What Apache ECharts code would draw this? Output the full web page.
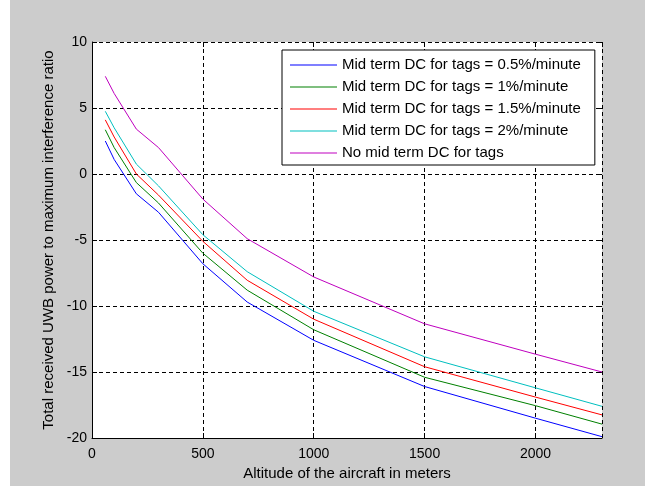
<!DOCTYPE html>
<html>
<head>
<meta charset="utf-8">
<script src="https://cdn.jsdelivr.net/npm/echarts@6/dist/echarts.min.js"></script>
<style>
  html, body { margin: 0; padding: 0; background: #ffffff; }
  #chart { width: 645px; height: 486px; }
</style>
</head>
<body>
<div id="chart"></div>
<script>
// Altitude of the aircraft (m)
const altitudes = [60, 100, 200, 300, 500, 700, 1000, 1500, 2000, 2300];

// Received UWB power to maximum interference ratio (dB)
const dc05 = [2.5, 1.1, -1.5, -2.9, -6.8, -9.7, -12.6, -16.1, -18.5, -19.9];
const dc1  = [3.35, 2.0, -0.65, -2.2, -6.0, -8.8, -11.8, -15.4, -17.55, -18.95];
const dc15 = [4.1, 2.8, 0.0, -1.6, -5.1, -8.05, -11.0, -14.6, -16.9, -18.25];
const dc2  = [4.75, 3.5, 0.75, -0.9, -4.6, -7.4, -10.4, -13.85, -16.2, -17.6];
const noDc = [7.4, 6.1, 3.4, 2.0, -1.9, -4.9, -7.8, -11.35, -13.65, -15.0];

const seriesNames = [
  'Mid term DC for tags = 0.5%/minute',
  'Mid term DC for tags = 1%/minute',
  'Mid term DC for tags = 1.5%/minute',
  'Mid term DC for tags = 2%/minute',
  'No mid term DC for tags'
];
const seriesValues = [dc05, dc1, dc15, dc2, noDc];
const seriesColors = ['#0000ff', '#008000', '#ff0000', '#00bfbf', '#bf00bf'];

const xTicks = { min: 0, max: 2300, interval: 500 };
const yTicks = { min: -20, max: 10, interval: 5 };

const FONT = 'Liberation Sans, Arial, sans-serif';

const chart = echarts.init(document.getElementById('chart'), null, { renderer: 'canvas' });

const toPairs = (ys) => altitudes.map((x, i) => [x, ys[i]]);

const gridLine = { show: true, lineStyle: { color: '#000', type: [4, 3], width: 1 } };
const innerTick = { show: true, inside: true, length: 5, lineStyle: { color: '#000' } };

chart.setOption({
  backgroundColor: '#cccccc',
  animation: false,
  graphic: [{
    type: 'rect', left: 0, top: 0, z: -1,
    shape: { width: 10, height: 486 },
    style: { fill: '#ffffff' }
  }],
  grid: {
    left: 92, top: 42, right: 43, bottom: 44,
    show: true, backgroundColor: '#ffffff', borderWidth: 0
  },
  legend: {
    orient: 'vertical',
    left: 282, top: 50,
    padding: [7, 14, 4, 8],
    icon: 'rect',
    itemWidth: 47, itemHeight: 1, itemGap: 6,
    backgroundColor: '#ffffff',
    borderColor: '#000', borderWidth: 1,
    textStyle: { fontFamily: FONT, fontSize: 15, color: '#000', lineHeight: 16 },
    data: seriesNames
  },
  xAxis: [{
    type: 'value', position: 'bottom',
    min: xTicks.min, max: xTicks.max, interval: xTicks.interval,
    name: 'Altitude of the aircraft in meters',
    nameLocation: 'middle', nameGap: 28,
    nameTextStyle: { fontFamily: FONT, fontSize: 15, color: '#000' },
    axisLine: { show: true, onZero: false, lineStyle: { color: '#000', width: 1 } },
    axisTick: innerTick,
    axisLabel: {
      fontFamily: FONT, fontSize: 14, color: '#000', margin: 9, showMaxLabel: false,
      formatter: (v) => String(v)
    },
    splitLine: gridLine
  }, {
    type: 'value', position: 'top',
    min: xTicks.min, max: xTicks.max, interval: xTicks.interval,
    axisLine: { show: false, onZero: false },
    axisTick: innerTick,
    axisLabel: { show: false },
    splitLine: { show: false }
  }],
  yAxis: [{
    type: 'value', position: 'left',
    min: yTicks.min, max: yTicks.max, interval: yTicks.interval,
    name: 'Total received UWB power to maximum interference ratio',
    nameLocation: 'middle', nameGap: 36,
    nameTextStyle: { fontFamily: FONT, fontSize: 15, color: '#000' },
    axisLine: { show: true, onZero: false, lineStyle: { color: '#000', width: 1 } },
    axisTick: innerTick,
    axisLabel: { fontFamily: FONT, fontSize: 14, color: '#000', margin: 5, formatter: (v) => String(v) },
    splitLine: gridLine
  }, {
    type: 'value', position: 'right',
    min: yTicks.min, max: yTicks.max, interval: yTicks.interval,
    axisLine: { show: false, onZero: false },
    axisTick: innerTick,
    axisLabel: { show: false },
    splitLine: { show: false }
  }],
  series: seriesNames.map((name, i) => ({
    name: name,
    type: 'line',
    xAxisIndex: 0, yAxisIndex: 0,
    data: toPairs(seriesValues[i]),
    symbol: 'none',
    smooth: false,
    color: seriesColors[i],
    lineStyle: { color: seriesColors[i], width: 1 }
  }))
});
</script>
</body>
</html>
